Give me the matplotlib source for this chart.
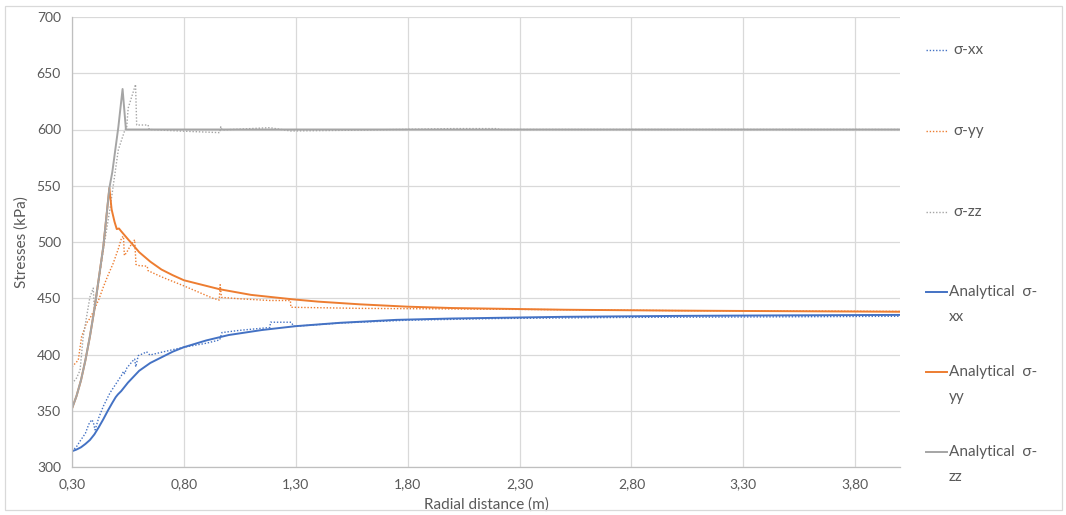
import numpy as np
import matplotlib.pyplot as plt
from matplotlib.lines import Line2D
from matplotlib.patches import Rectangle

plt.rcParams['font.family'] = ['Lato', 'DejaVu Sans']

# Numerical results (dotted)
x_num_xx = [0.30, 0.32, 0.336, 0.36, 0.375, 0.388, 0.395, 0.403, 0.42, 0.44, 0.47, 0.50, 0.52,
            0.53, 0.535, 0.545, 0.57, 0.58, 0.585, 0.596, 0.62, 0.633, 0.648, 0.70, 0.80, 0.90,
            0.96, 0.97, 1.05, 1.184, 1.187, 1.28, 1.29, 1.50, 1.80, 2.20, 2.80, 3.50, 4.00]
num_xx = [314, 318, 323, 330, 338, 342, 340, 333, 344, 354, 366, 375, 381,
          385, 383, 388, 394, 396, 389, 399, 401, 402.5, 399.5, 402, 406.5, 410,
          413, 419.5, 421.5, 424, 428.7, 428.7, 425, 428, 430.5, 432, 433, 433.5, 434]

x_num_yy = [0.30, 0.328, 0.343, 0.365, 0.38, 0.395, 0.42, 0.44, 0.46, 0.484, 0.507, 0.522, 0.53,
            0.534, 0.545, 0.559, 0.58, 0.586, 0.60, 0.636, 0.64, 0.70, 0.80, 0.90, 0.93, 0.958,
            0.962, 0.968, 1.05, 1.184, 1.276, 1.278, 1.586, 2.00, 2.50, 3.00, 4.00]
num_yy = [389, 395, 416, 428, 432, 438, 449, 460, 470, 481, 494, 504, 505,
          488, 491, 496, 502, 480, 479, 478.5, 474.5, 469, 461, 452.5, 450, 448.4,
          462, 450.8, 449.5, 448, 448, 442, 441, 440.5, 439.8, 439, 438.3]

x_num_zz = [0.30, 0.32, 0.336, 0.35, 0.358, 0.38, 0.395, 0.40, 0.42, 0.44, 0.47, 0.507, 0.537,
            0.544, 0.551, 0.584, 0.589, 0.64, 0.645, 0.80, 0.96, 0.965, 0.97, 1.184, 1.277,
            1.60, 2.00, 2.20, 2.21, 3.00, 4.00]
num_zz = [374, 379, 386, 416, 425, 451, 459, 440, 466, 493, 530, 582, 600,
          601, 619, 640, 604, 604, 600, 598.5, 597.2, 602.5, 599.6, 601.6, 598.7,
          599.5, 600.8, 600.8, 600, 600, 600]

# Analytical solutions (solid)
x_an_xx = [0.30, 0.32, 0.34, 0.36, 0.38, 0.40, 0.42, 0.44, 0.46, 0.48, 0.495, 0.505, 0.52,
           0.55, 0.60, 0.65, 0.70, 0.75, 0.80, 0.90, 1.00, 1.15, 1.30, 1.50, 1.75, 2.00,
           2.50, 3.00, 3.50, 4.00]
an_xx = [314, 315.5, 317.5, 320.5, 324, 329, 335.5, 342.5, 350, 357, 362, 364.5, 367.5,
         375, 385.5, 392.5, 397.5, 402.5, 406.5, 412.5, 417.3, 421.8, 425.2, 428.2, 430.8, 432,
         433.5, 434.3, 434.8, 435.2]

x_an_yy = [0.30, 0.32, 0.34, 0.36, 0.38, 0.40, 0.42, 0.44, 0.467, 0.477, 0.49, 0.50, 0.51, 0.52,
           0.535, 0.55, 0.57, 0.60, 0.65, 0.70, 0.75, 0.80, 0.90, 0.96, 1.10, 1.288, 1.40,
           1.586, 1.80, 2.00, 2.50, 3.00, 3.50, 4.00]
an_yy = [352, 363, 377, 395, 416, 440, 468, 496, 548, 529, 518, 511.5, 512, 509.5,
         506, 502.5, 498, 491, 482.5, 475.5, 470.5, 466, 461, 458, 453, 449, 447,
         444.6, 442.5, 441.3, 439.8, 439, 438.5, 438]

x_an_zz = [0.30, 0.32, 0.34, 0.36, 0.38, 0.40, 0.42, 0.44, 0.467, 0.48, 0.507, 0.526, 0.541, 4.00]
an_zz = [352, 363, 377, 395, 416, 440, 468, 496, 548, 562, 602, 636, 600, 600]

x_ticks = [0.30, 0.80, 1.30, 1.80, 2.30, 2.80, 3.30, 3.80]
y_ticks = [300, 350, 400, 450, 500, 550, 600, 650, 700]

blue = '#4472C4'
orange = '#ED7D31'
gray = '#A5A5A5'
text_col = '#595959'
grid_col = '#D9D9D9'

fig = plt.figure(figsize=(10.66, 5.15), dpi=100)
ax = fig.add_axes([72 / 1066, 1 - 467 / 515, 828 / 1066, 450 / 515])

dot = (0, (1, 1.3))
ax.plot(x_num_xx, num_xx, color=blue, lw=1.0, ls=dot)
ax.plot(x_num_yy, num_yy, color=orange, lw=1.0, ls=dot)
ax.plot(x_num_zz, num_zz, color=gray, lw=1.0, ls=dot)
ax.plot(x_an_xx, an_xx, color=blue, lw=1.4)
ax.plot(x_an_yy, an_yy, color=orange, lw=1.4)
ax.plot(x_an_zz, an_zz, color=gray, lw=1.4)

ax.set_xlim(0.30, 4.00)
ax.set_ylim(300, 700)
ax.set_xticks(x_ticks)
ax.set_xticklabels([f"{v:.2f}".replace('.', ',') for v in x_ticks])
ax.set_yticks(y_ticks)
ax.tick_params(length=0, labelsize=10, colors=text_col, pad=8)
ax.grid(True, color=grid_col, lw=0.9)
ax.set_axisbelow(True)
for s in ['top', 'right']:
    ax.spines[s].set_visible(False)
for s in ['left', 'bottom']:
    ax.spines[s].set_color('#BFBFBF')
    ax.spines[s].set_linewidth(0.9)

ax.set_xlabel("Radial distance (m)", fontsize=11, color=text_col, labelpad=5)
ax.set_ylabel("Stresses (kPa)", fontsize=11, color=text_col, labelpad=6)

# legend on the right, Excel style
def fx(px):
    return px / 1066

def fy(py):
    return 1 - py / 515

entries = [
    (blue, dot, 1.0, ["σ-xx"], 50, 953),
    (orange, dot, 1.0, ["σ-yy"], 131, 953),
    (gray, dot, 1.0, ["σ-zz"], 212, 953),
    (blue, '-', 1.4, ["Analytical  σ-", "xx"], 292, 949),
    (orange, '-', 1.4, ["Analytical  σ-", "yy"], 372, 949),
    (gray, '-', 1.4, ["Analytical  σ-", "zz"], 452, 949),
]
for col, ls, lw, lines, py, tx in entries:
    fig.add_artist(Line2D([fx(926), fx(947)], [fy(py), fy(py)], color=col, ls=ls, lw=lw,
                          transform=fig.transFigure))
    for i, t in enumerate(lines):
        fig.text(fx(tx), fy(py + 25 * i), t, fontsize=11, color=text_col,
                 va='center', ha='left')

fig.add_artist(Rectangle((fx(5), fy(510)), fx(1062) - fx(5), fy(6) - fy(510),
                         transform=fig.transFigure, fill=False, ec=grid_col, lw=0.9))

fig.savefig("out.png", dpi=100)
